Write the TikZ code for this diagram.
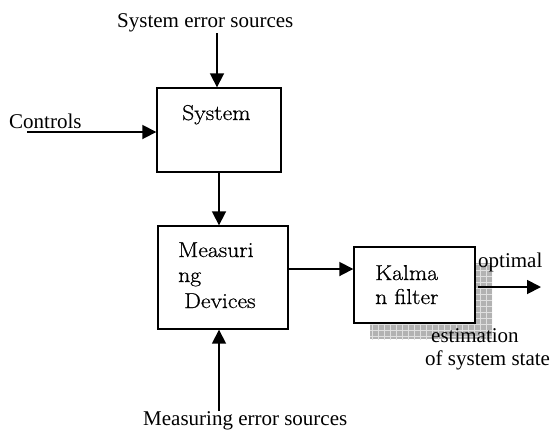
\documentclass[tikz,border=0pt]{standalone}
\usepackage{fontspec}
\newfontfamily\lblfont{Liberation Serif}
\newfontfamily\boxfont[FakeBold=0.7,FakeStretch=1.1]{Latin Modern Roman}
\usetikzlibrary{arrows.meta}
\tikzset{
  blk/.style={draw, line width=1.4bp, minimum width=#1, inner sep=0pt},
  lbl/.style={font=\lblfont\fontsize{21bp}{24bp}\selectfont, inner sep=0pt, anchor=base west},
  btxt/.style={font=\boxfont\fontsize{21.5bp}{25bp}\selectfont, inner sep=0pt, anchor=base west},
  arr/.style={line width=1.8bp, -{Triangle[length=14bp,width=14bp]}}
}
\begin{document}
\begin{tikzpicture}[x=1bp,y=-1bp]
\useasboundingbox (0,0) rectangle (552,432);
% shadow
\fill[gray!60] (370,263) rectangle (492,339);
\begin{scope}
\clip (370,263) rectangle (492,339);
\draw[gray!25, line width=0.6bp, step=6bp] (366,258) grid (498,344);
\end{scope}
% boxes
\node[blk=124bp, minimum height=84bp] (sys) at (219,130) {};
\node[blk=130bp, minimum height=103bp] (meas) at (223,277.5) {};
\node[blk=121bp, minimum height=76bp, fill=white] (kal) at (414.5,285) {};
% box texts
\node[btxt] (t1) at (182,120) {System};
\node[btxt] (t2) at (178,257) {Measuri};
\node[btxt] (t3) at (178,282) {ng};
\node[btxt] (t4) at (184,308) {Devices};
\node[btxt] (t5) at (375,280) {Kalma};
\node[btxt] (t6) at (375,304) {n filter};
% labels
\node[lbl] (ses) at (117,27) {System error sources};
\node[lbl] (ctl) at (9,128) {Controls};
\node[lbl] (mes) at (143,425) {Measuring error sources};
\node[lbl] (opt) at (478,267) {optimal};
\node[lbl] (est) at (431,342) {estimation};
\node[lbl] (oss) at (425,365) {of system state};
% connectors
\coordinate (sesend) at (217,33);
\coordinate (ctlend) at (27,132);
\coordinate (mesend) at (219,411);
\coordinate (optstart) at (478,287);
\coordinate (optend) at (541,287);
\draw[arr] (sesend) -- (sesend |- sys.north);
\draw[arr] (ctlend) -- (ctlend -| sys.west);
\draw[arr] (sys.south -| 219,0) -- (219,0 |- meas.north);
\draw[arr] (mesend) -- (mesend |- meas.south);
\draw[arr] (meas.east |- 0,269) -- (kal.west |- 0,269);
\draw[arr] (optstart) -- (optend);
\end{tikzpicture}
\end{document}
